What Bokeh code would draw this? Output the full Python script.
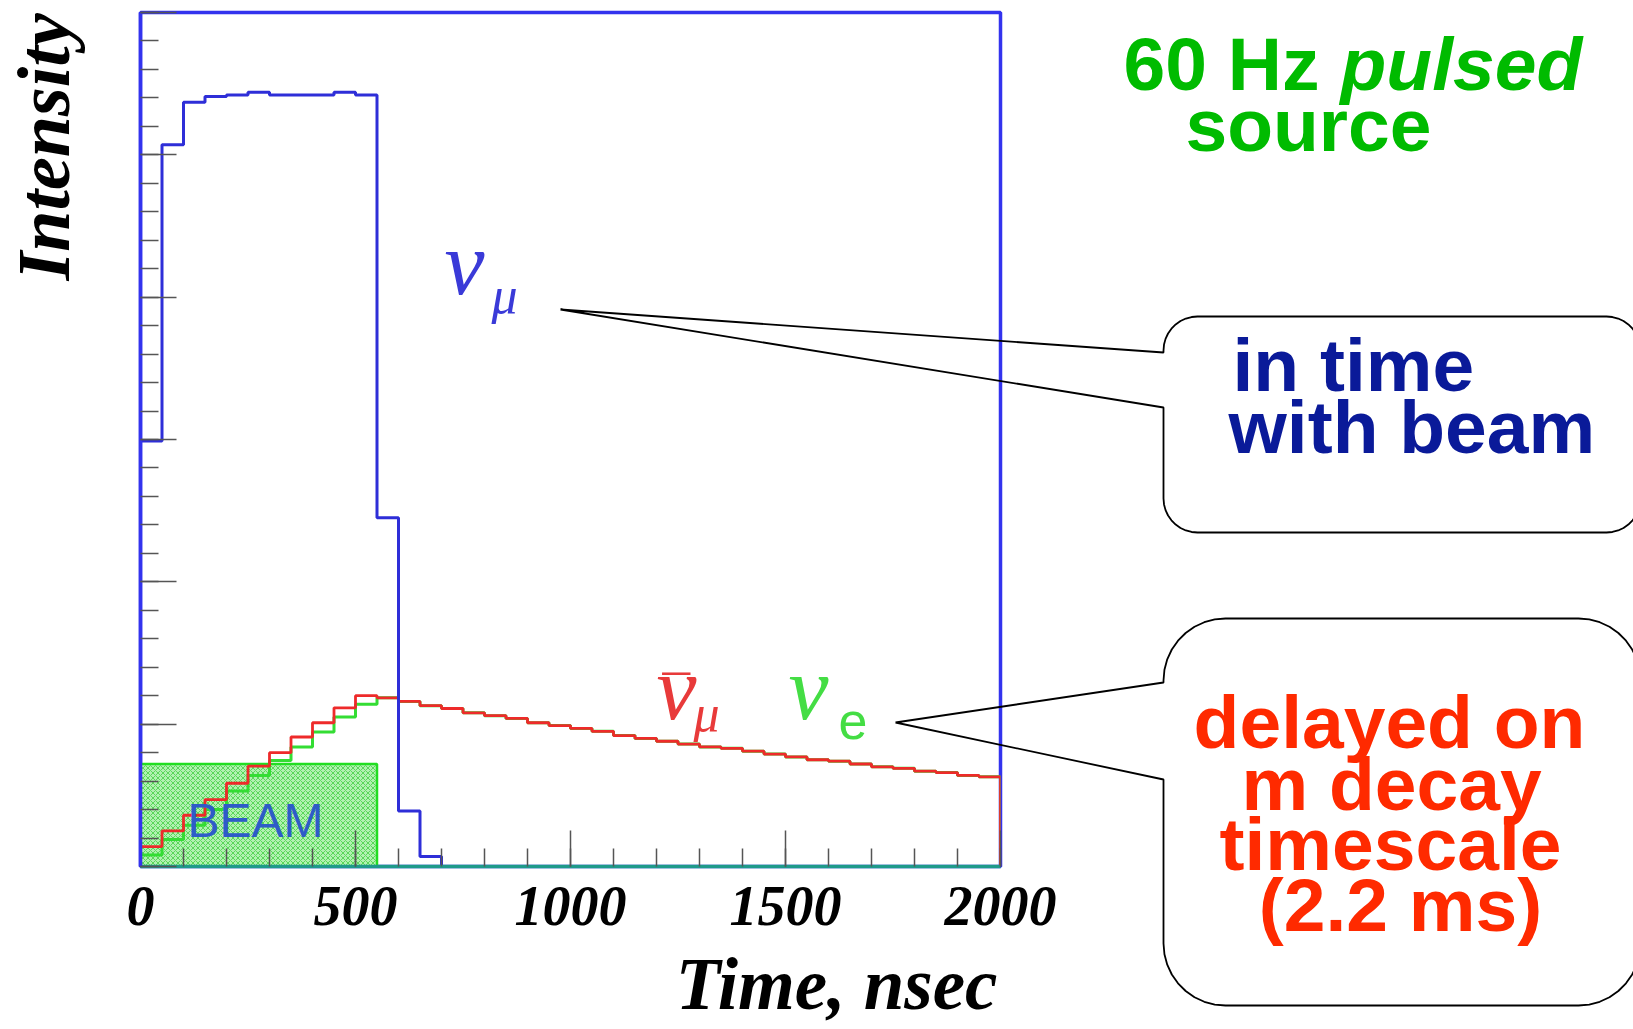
import math
from bokeh.plotting import figure
from bokeh.models import Range1d, FixedTicker, CustomJSTickFormatter
from bokeh.core.properties import value
from bokeh.embed import file_html
from bokeh.resources import INLINE

# ---------------- data ----------------
bin_edges = list(range(0, 2050, 50))          # time bins, ns
x_ticks = [0, 500, 1000, 1500, 2000]
x_tick_labels = ["0", "500", "1000", "1500", "2000"]

# nu_mu (prompt, in time with beam)
nu_mu = [29.9, 50.7, 53.7, 54.1, 54.2, 54.4, 54.2, 54.2, 54.2, 54.4, 54.2,
         24.5, 3.9, 0.7, 0, 0, 0, 0, 0, 0, 0, 0, 0, 0, 0, 0, 0, 0, 0, 0,
         0, 0, 0, 0, 0, 0, 0, 0, 0, 0]
# anti nu_mu (delayed)
nu_mu_bar = [1.4, 2.5, 3.6, 4.7, 5.85, 7.05, 8.0, 9.1, 10.1, 11.15, 12.0, 11.85,
             11.6, 11.3, 11.1, 10.8, 10.6, 10.4, 10.1, 9.9, 9.7, 9.5,
             9.2, 9.0, 8.8, 8.6, 8.4, 8.3, 8.1, 7.9, 7.7, 7.5,
             7.4, 7.2, 7.0, 6.9, 6.7, 6.6, 6.4, 6.3]
# nu_e (delayed)
nu_e = [0.8, 1.9, 2.9, 4.0, 5.3, 6.4, 7.45, 8.4, 9.45, 10.5, 11.4, 11.85,
        11.6, 11.3, 11.1, 10.8, 10.6, 10.4, 10.1, 9.9, 9.7, 9.5,
        9.2, 9.0, 8.8, 8.6, 8.4, 8.3, 8.1, 7.9, 7.7, 7.5,
        7.4, 7.2, 7.0, 6.9, 6.7, 6.6, 6.4, 6.3]
# beam window
beam_start, beam_end, beam_level = 0, 550, 7.2

# ---------------- figure ----------------
W, H = 1633, 1029
FL, FR, FT, FB = 140, 1000, 12, 866      # frame edges in pixels
X0, X1, Y0, Y1 = 0, 2000, 0, 60

def dx(px):
    return X0 + (px - FL) / (FR - FL) * (X1 - X0)

def dy(py):
    return Y0 + (FB - py) / (FB - FT) * (Y1 - Y0)

p = figure(width=W, height=H, x_range=Range1d(X0, X1), y_range=Range1d(Y0, Y1),
           output_backend="svg", toolbar_location=None,
           min_border_left=FL, min_border_right=W - FR,
           min_border_top=FT, min_border_bottom=H - FB)
p.background_fill_color = "white"
p.border_fill_color = "white"
p.grid.visible = False
p.outline_line_color = "#3333ee"
p.outline_line_width = 3.5

BLUE = "#2e2ed8"
RED = "#ee2a2a"
GREEN = "#33dd33"

# beam box
p.quad(left=[beam_start], right=[beam_end], bottom=[0], top=[beam_level],
       fill_color="#a8f0a8", fill_alpha=0.9, hatch_pattern="diagonal_cross",
       hatch_color="#33cc33", hatch_scale=5, hatch_alpha=0.7,
       line_color="#22dd22", line_width=2.5)

OFF = 0.375   # baseline correction factor (em)

def lab(px, py, t, color, size, style="italic", font="Liberation Serif", align="left",
        angle=0.0):
    off = OFF * size
    if angle:
        x, y = dx(px - off), dy(py)
    else:
        x, y = dx(px), dy(py - off)
    p.text(x=[x], y=[y], text=[t], text_font=value(font), text_font_style=style,
           text_font_size=f"{size}px", text_color=color, text_align=align,
           text_baseline="alphabetic", angle=angle, level="overlay")

lab(187, 838, "BEAM", "#2e5cc8", 48, style="normal", font="Liberation Sans")

def step_xy(vals):
    return [bin_edges[0]] + bin_edges, [0] + vals + [0]

xs, ys = step_xy(nu_e)
p.step(xs, ys, mode="after", line_color=GREEN, line_width=3)
xs, ys = step_xy(nu_mu_bar)
p.step(xs, ys, mode="after", line_color=RED, line_width=2.8)
xs, ys = step_xy(nu_mu)
p.step(xs, ys, mode="after", line_color=BLUE, line_width=3)

# axes
xa = p.xaxis[0]
xa.ticker = FixedTicker(ticks=x_ticks, minor_ticks=list(range(0, 2001, 100)))
xa.major_label_overrides = {t: l for t, l in zip(x_ticks, x_tick_labels)}
xa.axis_line_color = "#1e9a8a"
xa.axis_line_width = 3.5
for ax in (p.xaxis[0], p.yaxis[0]):
    ax.major_tick_in = 36
    ax.major_tick_out = 0
    ax.minor_tick_in = 18
    ax.minor_tick_out = 0
    ax.major_tick_line_color = "#555555"
    ax.minor_tick_line_color = "#555555"
    ax.major_tick_line_width = 1.5
    ax.minor_tick_line_width = 1.5
xa.major_label_text_font = "Liberation Serif"
xa.major_label_text_font_style = "bold italic"
xa.major_label_text_font_size = "56px"
xa.major_label_text_color = "black"
xa.major_label_standoff = 20

ya = p.yaxis[0]
ya.ticker = FixedTicker(ticks=list(range(0, 61, 10)), minor_ticks=list(range(0, 61, 2)))
ya.formatter = CustomJSTickFormatter(code="return ''")
ya.axis_line_color = "#3333ee"
ya.axis_line_width = 3.5

# axis titles
lab(997, 1011, "Time, nsec", "black", 73, style="bold italic", align="right")
lab(71, 280, "Intensity", "black", 74, style="bold italic", angle=math.pi / 2)

# greek labels
lab(444, 297, "ν", "#3a3ad8", 90)
lab(491, 314, "μ", "#3a3ad8", 52)
lab(656, 722, "ν", "#e83a3a", 90)
lab(662, 716, "¯", "#e83a3a", 55, style="normal")
lab(693, 732, "μ", "#e83a3a", 52)
lab(788, 722, "ν", "#44dd44", 90)
lab(838, 740, "e", "#44dd44", 52, style="normal", font="Liberation Sans")

# callout bubbles
def bubble(tip, y_a, y_b, left, top, bottom, right, r):
    pts = [tip, (left, y_a), (left, top + r)]
    def arc(cx, cy, a0, a1):
        for k in range(1, 10):
            a = a0 + (a1 - a0) * k / 9
            pts.append((cx + r * math.cos(a), cy - r * math.sin(a)))
    arc(left + r, top + r, math.pi, math.pi / 2)
    pts.append((right - r, top))
    arc(right - r, top + r, math.pi / 2, 0)
    pts.append((right, bottom - r))
    arc(right - r, bottom - r, 0, -math.pi / 2)
    pts.append((left + r, bottom))
    arc(left + r, bottom - r, -math.pi / 2, -math.pi)
    pts.append((left, y_b))
    pts.append(tip)
    p.line([dx(a) for a, b in pts], [dy(b) for a, b in pts], line_color="black",
           line_width=1.8, level="overlay")

bubble((560, 309), 352, 407, 1163, 316, 532, 1640, 34)
bubble((895, 722), 682, 779, 1163, 618, 1005, 1640, 62)

# right-side texts
SANS = "Liberation Sans"
lab(1123, 92, "60 Hz", "#00bb00", 75, style="bold", font=SANS)
lab(1340, 92, "pulsed", "#00bb00", 75, style="bold italic", font=SANS)
lab(1185, 153, "source", "#00bb00", 75, style="bold", font=SANS)
lab(1232, 393, "in time", "#0a1a99", 75, style="bold", font=SANS)
lab(1228, 455, "with beam", "#0a1a99", 75, style="bold", font=SANS)
lab(1389, 750, "delayed on", "#ff2a00", 75, style="bold", font=SANS, align="center")
lab(1391, 812, "m decay", "#ff2a00", 75, style="bold", font=SANS, align="center")
lab(1390, 872, "timescale", "#ff2a00", 75, style="bold", font=SANS, align="center")
lab(1400, 933, "(2.2 ms)", "#ff2a00", 75, style="bold", font=SANS, align="center")

open("out.html", "w").write(file_html(p, INLINE))
